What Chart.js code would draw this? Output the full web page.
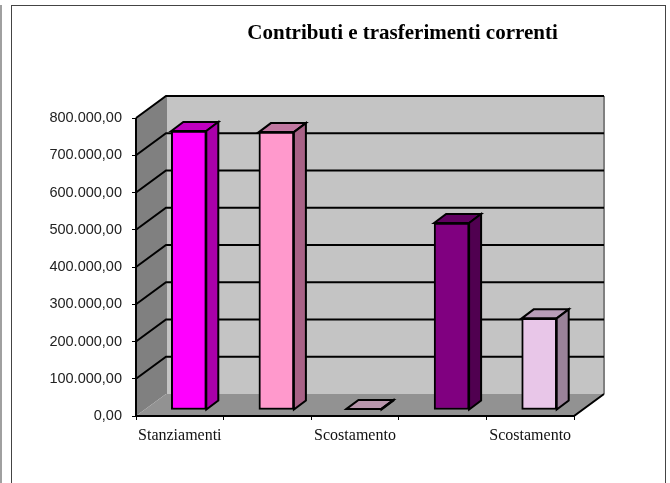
<!DOCTYPE html>
<html><head><meta charset="utf-8">
<script src="https://cdn.jsdelivr.net/npm/chart.js@4"></script>
<style>
html,body{margin:0;padding:0;background:#fff;overflow:hidden}
#wrap{position:relative;width:670px;height:483px}
canvas{position:absolute;left:0;top:0}
#strip{position:absolute;left:0;top:5px;width:2px;height:478px;background:#a0a0a0}
#frame{position:absolute;left:11px;top:5px;width:655px;height:478px;border:1px solid #444;border-bottom:none;box-sizing:border-box}
</style></head><body>
<div id="wrap"><canvas id="c" width="670" height="483"></canvas><div id="strip"></div><div id="frame"></div></div>
<script>
const categories = ["Stanziamenti", "", "Scostamento", "", "Scostamento"];
const values = [749000, 746000, 3000, 502000, 246000];
const faceColors = ["#ff00ff", "#ff99cc", "#e8c4dc", "#800080", "#e8c6e8"];
const topColors = ["#c000c0", "#c077a0", "#b896ac", "#600060", "#b89cb8"];
const sideColors = ["#aa00aa", "#a86286", "#9a8294", "#500050", "#9a8299"];
const yTicks = [0, 100000, 200000, 300000, 400000, 500000, 600000, 700000, 800000];
const titleText = "Contributi e trasferimenti correnti";

const WALL_DX = 30, WALL_DY = -22, BAR_DX = 9, BAR_DY = -6, DEPTH_DX = 12, DEPTH_DY = -9;
const fmt = v => v.toLocaleString("de-DE", {minimumFractionDigits: 2, maximumFractionDigits: 2});

function poly(ctx, pts, fill, stroke, lw) {
  ctx.beginPath();
  pts.forEach((p, i) => i ? ctx.lineTo(p[0], p[1]) : ctx.moveTo(p[0], p[1]));
  ctx.closePath();
  if (fill) { ctx.fillStyle = fill; ctx.fill(); }
  if (stroke) { ctx.strokeStyle = stroke; ctx.lineWidth = lw; ctx.lineJoin = "miter"; ctx.stroke(); }
}

const box3d = {
  id: "box3d",
  beforeDatasetsDraw(chart) {
    const {ctx, chartArea: a, scales: {y}} = chart;
    const L = a.left, R = a.right, T = a.top, B = a.bottom;
    ctx.save();
    poly(ctx, [[L + WALL_DX, T + WALL_DY], [R + WALL_DX, T + WALL_DY], [R + WALL_DX, B + WALL_DY], [L + WALL_DX, B + WALL_DY]], "#c4c4c4");
    poly(ctx, [[L, T], [L + WALL_DX, T + WALL_DY], [L + WALL_DX, B + WALL_DY], [L, B]], "#808080");
    poly(ctx, [[L, B], [L + WALL_DX, B + WALL_DY], [R + WALL_DX, B + WALL_DY], [R, B]], "#929292");
    ctx.strokeStyle = "#808080"; ctx.lineWidth = 2;
    ctx.beginPath();
    ctx.moveTo(R + WALL_DX, T + WALL_DY); ctx.lineTo(R + WALL_DX, B + WALL_DY);
    ctx.moveTo(L + WALL_DX, T + WALL_DY); ctx.lineTo(L + WALL_DX, B + WALL_DY);
    ctx.stroke();
    ctx.strokeStyle = "#000"; ctx.lineWidth = 2;
    ctx.beginPath();
    yTicks.forEach(t => {
      if (t === 0) return;
      const py = y.getPixelForValue(t);
      ctx.moveTo(L, py); ctx.lineTo(L + WALL_DX, py + WALL_DY); ctx.lineTo(R + WALL_DX, py + WALL_DY);
    });
    ctx.moveTo(L, B); ctx.lineTo(L, T);
    ctx.moveTo(L, B); ctx.lineTo(R, B); ctx.lineTo(R + WALL_DX, B + WALL_DY);
    ctx.stroke();
    ctx.restore();
    ctx.save();
    ctx.translate(BAR_DX, BAR_DY);
  },
  afterDatasetsDraw(chart) {
    const {ctx} = chart;
    chart.getDatasetMeta(0).data.forEach((bar, i) => {
      const p = bar.getProps(["x", "y", "base", "width"], true);
      const l = p.x - p.width / 2, r = p.x + p.width / 2, t = p.y, b = p.base;
      poly(ctx, [[l, t], [l + DEPTH_DX, t + DEPTH_DY], [r + DEPTH_DX, t + DEPTH_DY], [r, t]], topColors[i], "#000", 2);
      poly(ctx, [[r, t], [r + DEPTH_DX, t + DEPTH_DY], [r + DEPTH_DX, b + DEPTH_DY], [r, b]], sideColors[i], "#000", 2);
    });
    ctx.restore();
  },
  afterDraw(chart) {
    const {ctx} = chart;
    ctx.save();
    ctx.font = "bold 21px 'Liberation Serif'";
    ctx.fillStyle = "#000";
    ctx.textAlign = "center";
    ctx.textBaseline = "alphabetic";
    ctx.fillText(titleText, 402.5, 39);
    ctx.restore();
  }
};

new Chart(document.getElementById("c"), {
  type: "bar",
  data: {labels: categories, datasets: [{
    data: values, backgroundColor: faceColors, borderColor: "#000", borderWidth: 2,
    borderSkipped: false, barThickness: 35, clip: false
  }]},
  plugins: [box3d],
  options: {
    responsive: false, animation: false, devicePixelRatio: 1,
    layout: {padding: {top: 118, right: 96, left: 0, bottom: 0}},
    plugins: {legend: {display: false}, tooltip: {enabled: false}, title: {display: false}},
    scales: {
      x: {
        position: "bottom",
        afterFit(s) { s.height = 483 - 416; },
        grid: {offset: true, drawOnChartArea: false, drawTicks: true, tickLength: 4, color: "#000"},
        border: {display: false},
        ticks: {autoSkip: false, maxRotation: 0, minRotation: 0, padding: 6, color: "#111",
          font: {family: "'Liberation Serif'", size: 16}}
      },
      y: {
        min: 0, max: 800000,
        afterFit(s) { s.width = 136; },
        afterBuildTicks(s) { s.ticks = yTicks.map(v => ({value: v})); },
        grid: {drawOnChartArea: false, drawTicks: true, tickLength: 4, color: "#000"},
        border: {display: false},
        ticks: {padding: 10, color: "#222", callback: v => fmt(v),
          font: {family: "'Liberation Sans'", size: 14.5}}
      }
    }
  }
});
</script>
</body></html>
